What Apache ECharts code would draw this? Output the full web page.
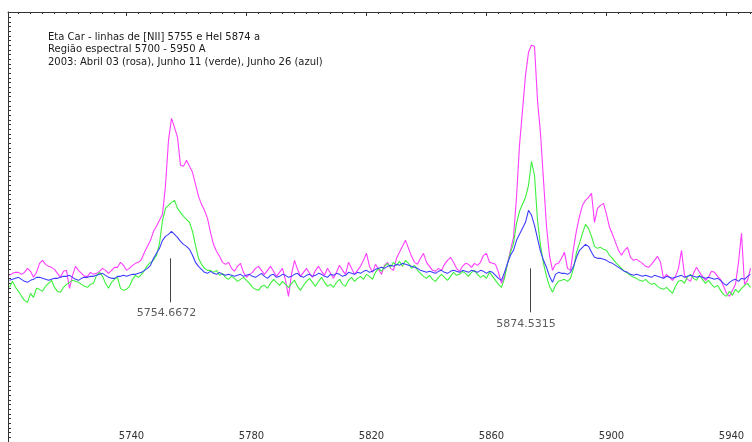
<!DOCTYPE html>
<html><head><meta charset="utf-8">
<script src="https://cdn.jsdelivr.net/npm/echarts@6/dist/echarts.min.js"></script>
<style>html,body{margin:0;padding:0;background:#fff}#c{width:752px;height:442px}</style>
</head><body><div id="c"></div><script>
const titleLines = [
  'Eta Car - linhas de [NII] 5755 e HeI 5874 a',
  'Região espectral 5700 - 5950 A',
  '2003: Abril 03 (rosa), Junho 11 (verde), Junho 26 (azul)'
];
const lambdaStart = 5701, lambdaStep = 1;
// Abril 03 (rosa)
const fluxAbril03 = [
1.000,1.012,1.018,1.018,1.006,1.018,1.042,1.024,0.988,1.018,
1.072,1.090,1.066,1.054,1.048,1.036,1.012,0.988,1.024,1.030,
0.922,1.000,1.054,1.030,1.012,0.994,0.994,1.018,1.006,1.012,
1.024,1.042,1.030,1.012,1.030,1.048,1.048,1.078,1.060,1.030,
1.042,1.060,1.072,1.078,1.096,1.138,1.174,1.210,1.264,1.294,
1.330,1.366,1.540,1.810,1.942,1.888,1.828,1.660,1.654,1.690,
1.654,1.618,1.546,1.474,1.426,1.390,1.342,1.258,1.186,1.144,
1.114,1.078,1.066,1.078,1.042,1.024,1.054,1.072,1.018,0.988,
1.006,1.018,1.042,1.054,1.030,1.006,1.030,1.054,1.024,0.994,
1.018,1.042,0.970,0.874,1.006,1.090,1.036,0.994,1.018,1.042,
1.012,0.988,1.030,1.054,1.024,1.000,1.042,1.012,0.982,1.018,
1.060,1.030,1.006,1.078,1.042,1.006,1.030,1.054,1.090,1.132,
1.054,1.018,1.066,1.036,1.006,1.060,1.078,1.042,1.030,1.102,
1.138,1.174,1.210,1.162,1.114,1.078,1.066,1.102,1.132,1.078,
1.054,1.030,1.024,1.042,1.030,1.066,1.090,1.108,1.078,1.042,
1.024,1.054,1.072,1.066,1.048,1.072,1.060,1.078,1.120,1.132,
1.078,1.072,1.066,1.018,0.952,0.994,1.072,1.150,1.228,1.468,
1.780,1.990,2.200,2.338,2.380,2.374,2.050,1.852,1.570,1.294,
1.120,1.030,1.066,1.072,1.102,1.138,1.042,1.030,1.162,1.270,
1.354,1.420,1.450,1.468,1.492,1.318,1.402,1.420,1.432,1.366,
1.288,1.246,1.198,1.150,1.120,1.150,1.168,1.108,1.090,1.096,
1.084,1.072,1.054,1.048,1.066,1.090,1.114,1.078,0.982,1.006,
0.988,0.970,0.994,1.042,1.150,1.000,0.976,0.964,1.012,1.048,
1.018,0.994,0.970,0.988,1.024,1.018,0.994,0.976,0.934,0.892,
0.874,0.910,0.946,1.078,1.252,0.946,0.970,1.042
];
// Junho 11 (verde)
const fluxJunho11 = [
0.928,0.964,0.928,0.904,0.874,0.850,0.838,0.892,0.868,0.922,
0.916,0.904,0.934,0.952,0.970,0.928,0.904,0.898,0.928,0.946,
0.958,0.970,0.964,0.958,0.946,0.934,0.928,0.946,0.952,1.000,
1.018,0.994,0.952,0.922,0.958,0.976,0.988,0.922,0.910,0.916,
0.934,0.976,1.000,0.988,1.006,1.030,1.060,1.078,1.090,1.120,
1.192,1.330,1.402,1.420,1.438,1.450,1.402,1.378,1.354,1.336,
1.318,1.264,1.180,1.102,1.066,1.042,1.030,1.030,1.018,1.030,
1.000,1.012,0.988,0.976,0.994,0.982,0.964,0.976,0.988,0.970,
0.952,0.928,0.916,0.910,0.934,0.940,0.922,0.952,0.976,0.958,
0.940,0.964,0.946,0.928,0.952,0.970,0.934,0.910,0.940,0.964,
0.982,0.958,0.934,0.964,0.988,0.958,0.934,0.946,0.928,0.958,
0.976,0.946,0.934,0.970,0.988,0.964,0.982,0.994,0.976,1.006,
0.994,0.976,1.018,1.042,1.024,1.054,1.072,1.048,1.078,1.060,
1.084,1.054,1.090,1.072,1.042,1.060,1.030,1.012,0.994,0.982,
1.000,0.976,0.964,0.988,1.006,0.988,0.970,0.994,1.018,1.000,
1.006,1.024,1.012,0.994,1.018,1.030,1.006,0.988,1.000,0.982,
1.018,0.994,0.970,0.946,0.928,0.982,1.072,1.138,1.192,1.312,
1.384,1.426,1.468,1.540,1.684,1.600,1.330,1.180,1.072,0.994,
0.934,0.898,0.940,0.964,0.970,0.976,0.964,0.982,1.042,1.138,
1.192,1.252,1.306,1.282,1.234,1.174,1.162,1.168,1.156,1.150,
1.120,1.102,1.078,1.060,1.042,1.024,1.012,1.000,0.988,0.982,
0.970,0.964,0.976,0.958,0.946,0.952,0.934,0.922,0.916,0.928,
0.910,0.892,0.934,0.964,0.970,0.952,0.994,1.006,0.982,0.970,
1.000,0.976,0.952,0.970,0.946,0.928,0.940,0.910,0.886,0.874,
0.904,0.880,0.916,0.898,0.922,0.940,0.952,0.928
];
// Junho 26 (azul)
const fluxJunho26 = [
0.970,0.976,0.982,0.988,0.976,0.964,0.958,0.970,0.976,0.988,
0.988,0.982,0.976,0.970,0.976,0.982,0.982,0.988,0.994,0.994,
1.000,0.988,0.976,0.970,0.982,0.988,0.988,0.994,0.994,1.000,
1.006,1.012,1.000,0.988,0.982,0.982,0.994,0.994,1.000,0.994,
1.000,1.006,1.006,1.012,1.018,1.030,1.042,1.060,1.102,1.132,
1.162,1.210,1.234,1.246,1.264,1.246,1.228,1.204,1.186,1.174,
1.156,1.120,1.078,1.054,1.036,1.018,1.012,1.024,1.012,1.006,
1.018,1.006,1.000,1.006,1.000,0.994,1.000,1.006,0.994,1.000,
1.006,0.994,0.988,1.000,1.012,0.994,0.982,1.000,1.006,0.988,
0.994,1.006,1.000,0.988,0.994,1.006,1.012,0.994,0.988,1.000,
1.006,0.994,1.000,1.012,1.006,0.994,0.988,1.006,1.000,1.012,
1.006,0.994,1.000,1.018,1.012,1.006,1.018,1.012,1.024,1.030,
1.018,1.024,1.036,1.042,1.048,1.042,1.054,1.060,1.054,1.066,
1.060,1.072,1.066,1.060,1.054,1.048,1.042,1.030,1.024,1.018,
1.024,1.018,1.012,1.024,1.030,1.018,1.012,1.024,1.030,1.024,
1.018,1.030,1.024,1.018,1.030,1.024,1.018,1.030,1.024,1.012,
1.024,1.018,1.000,0.982,0.970,1.018,1.072,1.120,1.150,1.210,
1.246,1.282,1.318,1.390,1.360,1.300,1.222,1.144,1.090,1.048,
0.994,0.958,1.006,1.018,1.012,1.012,1.006,1.018,1.054,1.108,
1.150,1.168,1.186,1.174,1.138,1.108,1.102,1.102,1.096,1.090,
1.078,1.072,1.060,1.048,1.036,1.024,1.018,1.006,1.000,1.006,
1.000,0.994,1.000,0.994,0.988,1.000,0.994,0.988,0.982,0.994,
0.988,0.982,0.988,0.994,1.000,0.988,0.994,1.000,0.994,0.988,
0.994,0.988,0.982,0.988,0.982,0.976,0.982,0.970,0.952,0.940,
0.958,0.970,0.976,0.964,0.982,0.976,0.994,1.006
];
const xTickLabels = [5740, 5780, 5820, 5860, 5900, 5940];
const markerWavelengths = [5754.6672, 5874.5315];
const markerLabels = ['5754.6672', '5874.5315'];
const markerTop = [1.102, 1.042];
const markerBottom = [0.838, 0.778];
const markerLabelY = [0.772, 0.706];

const FONT = 'DejaVu Sans';
const X_MIN = 5700.5, X_MAX = 5948.5;
const toPairs = arr => arr.map((v, i) => [lambdaStart + i * lambdaStep, v]);
const minorTicks = [];
for (let w = 5704; w <= X_MAX; w += 4) minorTicks.push(w);
const axisColor = '#333';

const chart = echarts.init(document.getElementById('c'), null, {renderer: 'canvas'});
const lineSeries = (name, data, color) => ({
  name, type: 'line', xAxisIndex: 0, yAxisIndex: 0,
  data: toPairs(data), showSymbol: false, symbol: 'none',
  lineStyle: {color, width: 1.1}, itemStyle: {color},
  emphasis: {disabled: true}, silent: true, clip: true, animation: false
});
chart.setOption({
  animation: false,
  backgroundColor: '#fff',
  title: {
    text: titleLines.join('\n'), left: 48, top: 31, padding: 0,
    textStyle: {fontFamily: FONT, fontSize: 10, fontWeight: 'normal', color: '#1a1a1a', lineHeight: 12.5}
  },
  grid: {left: 8, right: 0, top: 12, bottom: 0},
  xAxis: [
    {type: 'value', min: X_MIN, max: X_MAX, position: 'bottom',
     axisLine: {show: false}, axisTick: {show: false}, splitLine: {show: false},
     axisLabel: {inside: true, margin: 1, customValues: xTickLabels, fontFamily: FONT, fontSize: 10,
                 color: '#333', padding: [0, 0, 0, 10], formatter: v => String(v),
                 showMinLabel: true, showMaxLabel: true}},
    {type: 'value', min: X_MIN, max: X_MAX, position: 'top',
     axisLine: {show: true, lineStyle: {color: axisColor, width: 1}},
     axisTick: {show: true, inside: true, length: 4, customValues: xTickLabels, lineStyle: {color: axisColor}},
     axisLabel: {show: false}, splitLine: {show: false}},
    {type: 'value', min: X_MIN, max: X_MAX, position: 'top',
     axisLine: {show: false},
     axisTick: {show: true, inside: true, length: 2, customValues: minorTicks, lineStyle: {color: axisColor}},
     axisLabel: {show: false}, splitLine: {show: false}}
  ],
  yAxis: {
    type: 'value', min: 0, max: 2.58, interval: 0.028,
    axisLine: {show: true, lineStyle: {color: axisColor, width: 1}},
    axisTick: {show: true, inside: true, length: 3, lineStyle: {color: axisColor}},
    axisLabel: {show: false}, splitLine: {show: false}
  },
  series: [
    lineSeries('Abril 03', fluxAbril03, '#ff3cff'),
    lineSeries('Junho 11', fluxJunho11, '#3cf03c'),
    lineSeries('Junho 26', fluxJunho26, '#3c3cff'),
    {
      name: 'marcadores', type: 'scatter', xAxisIndex: 0, yAxisIndex: 0,
      data: markerWavelengths.map((w, i) => [w, markerLabelY[i]]),
      symbolSize: 1, itemStyle: {color: 'rgba(0,0,0,0)'}, silent: true,
      label: {show: true, position: 'inside', offset: [-4, 0],
              formatter: p => markerLabels[p.dataIndex],
              fontFamily: FONT, fontSize: 11, color: '#333'},
      markLine: {
        silent: true, symbol: ['none', 'none'], animation: false,
        label: {show: false},
        lineStyle: {color: '#444', width: 1, type: 'solid'},
        data: markerWavelengths.map((w, i) => [{coord: [w, markerTop[i]]}, {coord: [w, markerBottom[i]]}])
      },
      z: 5
    }
  ]
});
</script></body></html>
